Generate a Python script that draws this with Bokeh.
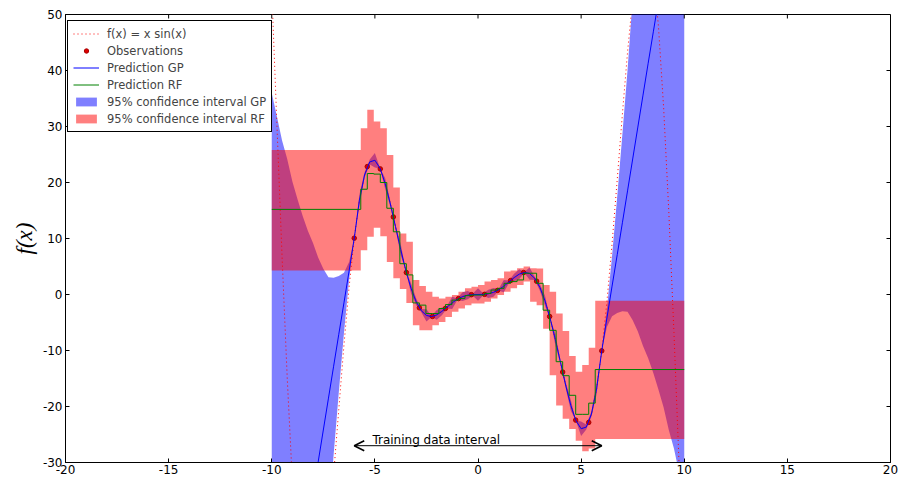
from bokeh.plotting import figure
from bokeh.models import (Range1d, FixedTicker, Legend, LegendItem,
                          Arrow, OpenHead, Label)
from bokeh.embed import file_html
from bokeh.resources import INLINE

# ---------------- data ----------------
grid_x = [-10.0, -9.75, -9.5, -9.25, -9.0, -8.75, -8.5, -8.25, -8.0, -7.75, -7.5, -7.25,
          -7.0, -6.75, -6.5, -6.25, -6.0, -5.75, -5.5, -5.25, -5.0, -4.75, -4.5, -4.25,
          -4.0, -3.75, -3.5, -3.25, -3.0, -2.75, -2.5, -2.25, -2.0, -1.75, -1.5, -1.25,
          -1.0, -0.75, -0.5, -0.25, 0.0, 0.25, 0.5, 0.75, 1.0, 1.25, 1.5, 1.75, 2.0, 2.25,
          2.5, 2.75, 3.0, 3.25, 3.5, 3.75, 4.0, 4.25, 4.5, 4.75, 5.0, 5.25, 5.5, 5.75,
          6.0, 6.25, 6.5, 6.75, 7.0, 7.25, 7.5, 7.75, 8.0, 8.25, 8.5, 8.75, 9.0, 9.25,
          9.5, 9.75, 10.0]

true_f = [54.40, 30.37, 6.78, -14.88, -33.38, -47.86, -57.69, -62.79, -63.32, -59.77,
          -52.76, -43.26, -32.19, -20.51, -9.09, 1.30, 10.06, 16.84, 21.34, 23.67, 23.97,
          22.55, 19.80, 16.17, 12.11, 8.04, 4.30, 1.14, -1.27, -2.89, -3.74, -3.94, -3.64,
          -3.01, -2.24, -1.48, -0.84, -0.38, -0.12, -0.02, 0.0, 0.02, 0.12, 0.38, 0.84,
          1.48, 2.24, 3.01, 3.64, 3.94, 3.74, 2.89, 1.27, -1.14, -4.30, -8.04, -12.11,
          -16.17, -19.80, -22.55, -23.97, -23.67, -21.34, -16.84, -10.06, -1.30, 9.09,
          20.51, 32.19, 43.26, 52.76, 59.77, 63.32, 62.79, 57.69, 47.86, 33.38, 14.88,
          -6.78, -30.37, -54.40]

gp_mean = [-80.5, -74.9, -69.3, -63.7, -58.1, -52.5, -46.9, -41.3, -35.6, -29.9, -24.2,
           -18.5, -12.8, -7.1, -1.5, 4.2, 10.06, 16.84, 21.34, 23.67, 23.97, 22.55, 19.80,
           16.17, 12.11, 8.04, 4.30, 1.14, -1.27, -2.89, -3.74, -3.94, -3.64, -3.01, -2.24,
           -1.48, -0.84, -0.38, -0.12, -0.02, 0.0, 0.02, 0.12, 0.38, 0.84, 1.48, 2.24, 3.01,
           3.64, 3.94, 3.74, 2.89, 1.27, -1.14, -4.30, -8.04, -12.11, -16.17, -19.80,
           -22.55, -23.97, -23.67, -21.34, -16.84, -10.06, -4.2, 1.5, 7.1, 12.8, 18.5, 24.2,
           29.9, 35.6, 41.3, 46.9, 52.5, 58.1, 63.7, 69.3, 74.9, 80.5]

gp_halfwidth = [116.5, 106.7, 96.8, 87.9, 78.3, 69.5, 60.9, 52.7, 44.8, 36.5, 28.8, 21.6,
                15.8, 10.4, 5.4, 1.6, 0.0,
                1.0, 0.5, 0.45, 1.3, 0.03, 0.95, 0.55, 0.35, 1.05, 0.07, 0.9, 0.6, 0.3,
                1.1, 0.1, 0.85, 0.7, 0.25, 1.1, 0.15, 0.8, 0.75, 0.2,
                1.1,
                0.2, 0.75, 0.8, 0.15, 1.1, 0.25, 0.7, 0.85, 0.1, 1.1, 0.3, 0.6, 0.9, 0.07,
                1.05, 0.35, 0.55, 0.95, 0.03, 1.3, 0.45, 0.5, 1.0,
                0.0, 1.6, 5.4, 10.4, 15.8, 21.6, 28.8, 36.5, 44.8, 52.7, 60.9, 69.5, 78.3,
                87.9, 96.8, 106.7, 116.5]

obs_x = [-6.0, -5.368, -4.737, -4.105, -3.474, -2.842, -2.211, -1.579, -0.947, -0.316,
         0.316, 0.947, 1.579, 2.211, 2.842, 3.474, 4.105, 4.737, 5.368, 6.0]
obs_y = [10.06, 22.84, 22.43, 13.85, 3.93, -2.38, -3.92, -2.49, -0.73, -0.03,
         0.03, 0.73, 2.49, 3.92, 2.38, -3.93, -13.85, -22.43, -22.84, -10.06]

rf_edges = [-10.0, -5.684, -5.368, -5.053, -4.737, -4.421, -4.105, -3.789, -3.474, -3.158,
            -2.842, -2.526, -2.211, -1.895, -1.579, -1.263, -0.947, -0.632, -0.316, 0.0,
            0.316, 0.632, 0.947, 1.263, 1.579, 1.895, 2.211, 2.526, 2.842, 3.158, 3.474,
            3.789, 4.105, 4.421, 4.737, 5.053, 5.368, 5.684, 10.0]
rf_pred = [15.2, 18.8, 21.6, 21.5, 20.0, 15.4, 11.2, 5.5, 3.5, -1.5, -1.9, -3.4, -3.4,
           -2.5, -1.8, -1.0, -0.7, -0.2, -0.1, -0.1, 0.2, 0.8, 1.1, 2.0, 2.3, 2.6, 3.8,
           3.8, 2.0, -2.8, -6.4, -12.0, -14.5, -18.0, -21.4, -21.4, -19.4, -13.4]
rf_upper = [25.8, 29.7, 33.0, 30.9, 29.7, 24.9, 19.1, 10.9, 9.4, 2.6, 1.5, 0.5, -0.4,
            -0.7, -0.4, -0.1, 0.5, 1.1, 1.4, 1.7, 2.3, 2.6, 2.9, 4.1, 4.3, 4.7, 5.0, 4.7,
            4.65, 1.7, 0.5, -3.4, -6.5, -11.0, -13.8, -12.6, -9.5, -1.1]
rf_lower = [4.3, 7.9, 10.3, 11.9, 10.4, 5.8, 2.9, 1.0, -1.5, -5.5, -6.4, -6.4, -5.5,
            -4.9, -4.0, -3.1, -2.5, -1.9, -1.6, -1.6, -1.3, -0.7, -0.1, 0.5, 1.1, 1.7,
            2.3, -1.3, -1.9, -6.1, -14.4, -19.8, -22.2, -24.0, -26.1, -28.0, -27.5, -25.8]

x_ticks = [-20, -15, -10, -5, 0, 5, 10, 15, 20]
x_tick_labels = ["-20", "-15", "-10", "-5", "0", "5", "10", "15", "20"]
y_ticks = [-30, -20, -10, 0, 10, 20, 30, 40, 50]
y_tick_labels = ["-30", "-20", "-10", "0", "10", "20", "30", "40", "50"]

labels = ["f(x) = x sin(x)", "Observations", "Prediction GP", "Prediction RF",
          "95% confidence interval GP", "95% confidence interval RF"]
interval_y = -27.0
interval_text = "Training data interval"

# ---------------- figure ----------------
FONT = "DejaVu Sans"
X0, X1, Y0, Y1 = -20, 20, -30, 50
p = figure(width=899, height=479, x_range=Range1d(X0, X1), y_range=Range1d(Y0, Y1),
           output_backend="svg", toolbar_location=None,
           min_border_left=65, min_border_right=9, min_border_top=14, min_border_bottom=17,
           background_fill_color="white", border_fill_color="white")
p.grid.visible = False
p.outline_line_color = "black"
p.outline_line_width = 1

gp_lower = [m - h for m, h in zip(gp_mean, gp_halfwidth)]
gp_upper = [m + h for m, h in zip(gp_mean, gp_halfwidth)]
r_gp_band = p.varea(x=grid_x, y1=gp_lower, y2=gp_upper, fill_color="#0000ff", fill_alpha=0.5)

band_x, band_y = [], []
for i in range(len(rf_upper)):
    band_x += [rf_edges[i], rf_edges[i + 1]]
    band_y += [rf_upper[i], rf_upper[i]]
for i in reversed(range(len(rf_lower))):
    band_x += [rf_edges[i + 1], rf_edges[i]]
    band_y += [rf_lower[i], rf_lower[i]]
r_rf_band = p.patch(band_x, band_y, fill_color="#ff0000", fill_alpha=0.5, line_color=None)

step_x, step_y = [], []
for i, v in enumerate(rf_pred):
    step_x += [rf_edges[i], rf_edges[i + 1]]
    step_y += [v, v]

r_f = p.line(grid_x, true_f, line_color="#ff0000", line_dash="1 3", line_width=1)
r_obs = p.scatter(obs_x, obs_y, size=4.5, fill_color="#dd0000", line_color="#aa0000")
r_gp = p.line(grid_x, gp_mean, line_color="#0000ff", line_width=1)
r_rf = p.line(step_x, step_y, line_color="#008000", line_width=1)

# mirrored tick marks on the top and right sides (inside, ~4px long)
tick_dy = (Y1 - Y0) * 4.0 / 448
tick_dx = (X1 - X0) * 4.0 / 825
p.segment(x0=x_ticks, y0=[Y1] * len(x_ticks), x1=x_ticks, y1=[Y1 - tick_dy] * len(x_ticks),
          line_color="black", line_width=1)
p.segment(x0=[X1] * len(y_ticks), y0=y_ticks, x1=[X1 - tick_dx] * len(y_ticks), y1=y_ticks,
          line_color="black", line_width=1)

# annotation
p.add_layout(Arrow(x_start=obs_x[-1], y_start=interval_y, x_end=obs_x[0], y_end=interval_y,
                   start=OpenHead(size=10, line_width=1.6, line_color="black"),
                   end=OpenHead(size=10, line_width=1.6, line_color="black"),
                   line_color="black", line_width=1))
p.add_layout(Label(x=-5.12, y=-26.0, text=interval_text, text_font=FONT,
                   text_font_size="12px", text_color="black", text_baseline="alphabetic"))

# axes
p.xaxis.ticker = FixedTicker(ticks=x_ticks)
p.yaxis.ticker = FixedTicker(ticks=y_ticks)
p.xaxis.major_label_overrides = {t: s for t, s in zip(x_ticks, x_tick_labels)}
p.yaxis.major_label_overrides = {t: s for t, s in zip(y_ticks, y_tick_labels)}
for ax in p.axis:
    ax.major_tick_in = 4
    ax.major_tick_out = 0
    ax.minor_tick_in = 0
    ax.minor_tick_out = 0
    ax.axis_line_color = "black"
    ax.major_tick_line_color = "black"
    ax.major_label_text_font = FONT
    ax.major_label_text_font_size = "12px"
    ax.major_label_text_color = "black"
    ax.major_label_standoff = 3
p.xaxis.major_label_standoff = 2
p.yaxis.axis_label = "f(x)"
p.yaxis.axis_label_text_font = "Liberation Serif"
p.yaxis.axis_label_text_font_style = "italic"
p.yaxis.axis_label_text_font_size = "23px"
p.yaxis.axis_label_text_color = "black"
p.yaxis.axis_label_standoff = 3

legend = Legend(items=[
    LegendItem(label=labels[0], renderers=[r_f]),
    LegendItem(label=labels[1], renderers=[r_obs]),
    LegendItem(label=labels[2], renderers=[r_gp]),
    LegendItem(label=labels[3], renderers=[r_rf]),
    LegendItem(label=labels[4], renderers=[r_gp_band]),
    LegendItem(label=labels[5], renderers=[r_rf_band]),
], location=(2, 330), margin=0, padding=5, spacing=2,
    label_text_font=FONT, label_text_font_size="11.5px", label_height=15,
    glyph_height=11, glyph_width=26, label_standoff=8,
    border_line_color="black", border_line_width=1, border_line_alpha=1,
    background_fill_color="white", background_fill_alpha=1)
p.add_layout(legend)

open("out.html", "w").write(file_html(p, INLINE))
